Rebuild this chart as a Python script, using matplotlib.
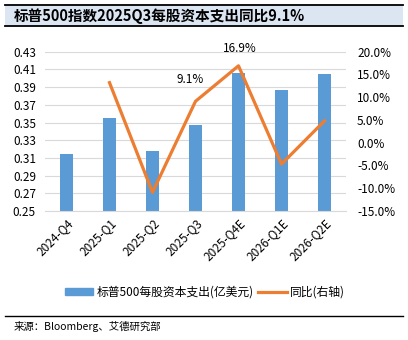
import matplotlib
matplotlib.use("Agg")
import matplotlib.pyplot as plt
from matplotlib.patches import Rectangle
from matplotlib.lines import Line2D
import numpy as np

plt.rcParams['font.family'] = ['Noto Sans CJK SC', 'DejaVu Sans']

categories = ["2024-Q4", "2025-Q1", "2025-Q2", "2025-Q3", "2025-Q4E", "2026-Q1E", "2026-Q2E"]
capex = [0.314, 0.355, 0.318, 0.347, 0.406, 0.387, 0.405]
yoy = [None, 13.2, -10.9, 9.1, 16.9, -4.7, 4.8]
left_ticks = [0.25, 0.27, 0.29, 0.31, 0.33, 0.35, 0.37, 0.39, 0.41, 0.43]
right_ticks = [-15, -10, -5, 0, 5, 10, 15, 20]
title = "标普500指数2025Q3每股资本支出同比9.1%"
bar_label = "标普500每股资本支出(亿美元)"
line_label = "同比(右轴)"
source = "来源：Bloomberg、艾德研究部"

W, H = 408, 340
fig = plt.figure(figsize=(W/100, H/100), dpi=100)

# title bar
fig.patches.append(Rectangle((5/W, 1-26/H), 398/W, 21/H, transform=fig.transFigure,
                             facecolor="#DCE6F2", edgecolor="none", zorder=0))
fig.add_artist(Line2D([5/W, 403/W], [1-5/H, 1-5/H], color="black", lw=1.3))
fig.add_artist(Line2D([5/W, 403/W], [1-26/H, 1-26/H], color="black", lw=1.3))
fig.text(14/W, 1-15.5/H, title, fontsize=10.5, fontweight="bold", va="center", ha="left")

ax = fig.add_axes([45/W, 1-211/H, (346-45)/W, (211-51.7)/H])
x = np.arange(len(categories))
ax.bar(x, capex, width=0.31, color="#5B9BD5", zorder=2, label=bar_label)
ax.set_ylim(0.25, 0.43)
ax.set_yticks(left_ticks)
ax.set_yticklabels([f"{v:.2f}" for v in left_ticks], fontsize=8.5)
ax.set_xlim(-0.5, len(categories) - 0.5)
ax.set_xticks(x)
ax.set_xticklabels(categories, rotation=45, ha="right", rotation_mode="anchor", fontsize=8.5)
ax.grid(axis="y", color="#D9D9D9", lw=0.8, zorder=0)
for s in ax.spines.values():
    s.set_visible(False)
ax.spines["bottom"].set_visible(True)
ax.spines["bottom"].set_color("#D9D9D9")
ax.tick_params(axis="both", length=0, pad=4)
ax.tick_params(axis="y", pad=6.5)

ax2 = ax.twinx()
xs = [i for i, v in enumerate(yoy) if v is not None]
ys = [v for v in yoy if v is not None]
ax2.plot(xs, ys, color="#ED7D31", lw=2.3, zorder=3, label=line_label)
ax2.set_ylim(-15, 20)
ax2.set_yticks(right_ticks)
ax2.set_yticklabels([f"{v:.1f}%" for v in right_ticks], fontsize=8.5)
for s in ax2.spines.values():
    s.set_visible(False)
ax2.tick_params(axis="y", length=0, pad=8)

ax2.annotate("9.1%", (3, 9.1), xytext=(-4, 11), textcoords="offset points",
             ha="center", va="bottom", fontsize=8.5)
ax2.annotate("16.9%", (4, 16.9), xytext=(1, 8), textcoords="offset points",
             ha="center", va="bottom", fontsize=8.5)

handles = [Rectangle((0, 0), 1, 1, color="#5B9BD5"), Line2D([0], [0], color="#ED7D31", lw=2.3)]
fig.legend(handles, [bar_label, line_label], loc="center", bbox_to_anchor=(205/W, 1-292/H),
           ncol=2, frameon=False, fontsize=8.5, handlelength=2.4, handleheight=0.5,
           columnspacing=0.4, handletextpad=0.3)

fig.add_artist(Line2D([5/W, 403/W], [1-316/H, 1-316/H], color="black", lw=1.0))
fig.text(14/W, 1-326/H, source, fontsize=7.5, va="center", ha="left")

fig.savefig("out.png", dpi=100)
